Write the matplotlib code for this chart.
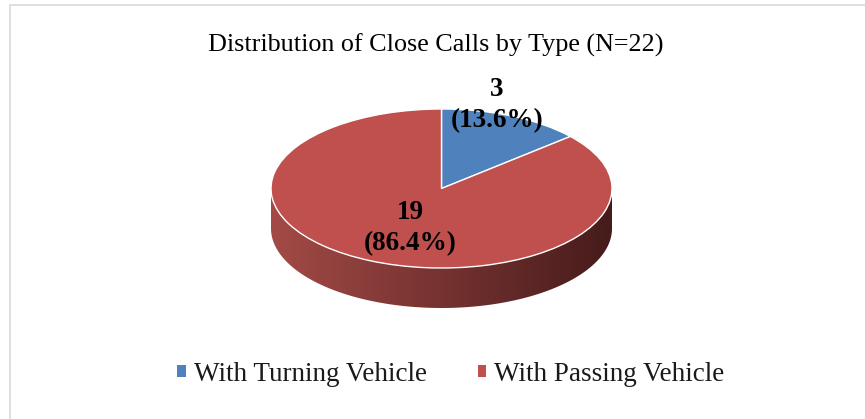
import numpy as np
import matplotlib
matplotlib.use('Agg')
import matplotlib.pyplot as plt
from matplotlib.patches import Polygon, Rectangle

plt.rcParams['font.family'] = ['Liberation Serif', 'DejaVu Serif']

title = 'Distribution of Close Calls by Type (N=22)'
categories = ['With Turning Vehicle', 'With Passing Vehicle']
counts = [3, 19]
colors = ['#4f81bd', '#c0504d']

W, H = 865, 419
fig = plt.figure(figsize=(W / 100, H / 100), dpi=100)

def px(x, y):
    # pixel position (from top left) to figure fraction
    return x / W, 1 - y / H

# frame around the chart (right and bottom edges fall outside the picture)
fig.patches.append(Rectangle((9.5 / W, -0.1), 1.2, 1.1 - 5.5 / H, transform=fig.transFigure,
                             fill=False, edgecolor='#d9d9d9', lw=1.2))
fig.text(*px(436, 45), title, fontsize=18.8, ha='center', va='center', color='#000000')

# ellipse geometry of the pie top (pixels)
cx, cy, rx, ry, depth = 441.5, 188.5, 170.5, 79.5, 40
d = depth / ry
top, bottom = cy - ry, cy + ry + depth
pax = fig.add_axes([(cx - rx) / W, (H - bottom) / H, 2 * rx / W, (bottom - top) / H])

wedges, _ = pax.pie(counts, colors=colors, startangle=90, counterclock=False,
                    wedgeprops=dict(edgecolor='white', linewidth=1.0))
for w in wedges:
    w.set_zorder(3)
pax.set_aspect('auto')
pax.axis('off')

# side of the pie, front half only
t = np.linspace(np.pi, 2 * np.pi, 200)
xs = np.cos(t)
ys = np.sin(t)
side = np.concatenate([np.column_stack([xs, ys]), np.column_stack([xs[::-1], ys[::-1] - d])])
poly = Polygon(side, closed=True, facecolor='none', edgecolor='none')
pax.add_patch(poly)
c0 = np.array([163, 74, 70]) / 255
c1 = np.array([70, 27, 27]) / 255
g = np.linspace(0, 1, 256)
grad = (c0[None, :] * (1 - g[:, None]) + c1[None, :] * g[:, None])[None, :, :]
im = pax.imshow(grad, extent=(-1, 1, -1 - d, 0.05), aspect='auto', zorder=1)
im.set_clip_path(poly)
pax.set_xlim(-1, 1)
pax.set_ylim(-1 - d, 1)

total = sum(counts)
labels = ['%d\n(%.1f%%)' % (c, 100 * c / total) for c in counts]
fig.text(*px(497, 105), labels[0], fontsize=19.5, fontweight='bold', ha='center', va='center',
         linespacing=1.3)
fig.text(*px(410, 228), labels[1], fontsize=19.5, fontweight='bold', ha='center', va='center',
         linespacing=1.3)

leg = fig.legend(wedges, categories, loc='center', bbox_to_anchor=px(451, 374),
                 ncol=2, frameon=False, fontsize=19.5, handlelength=0.3, handleheight=0.3,
                 handletextpad=0.3, columnspacing=1.9)
for t_ in leg.get_texts():
    t_.set_color('#1a1a1a')
for h in leg.legend_handles:
    h.set_edgecolor('none')

fig.savefig('out.png', dpi=100)
